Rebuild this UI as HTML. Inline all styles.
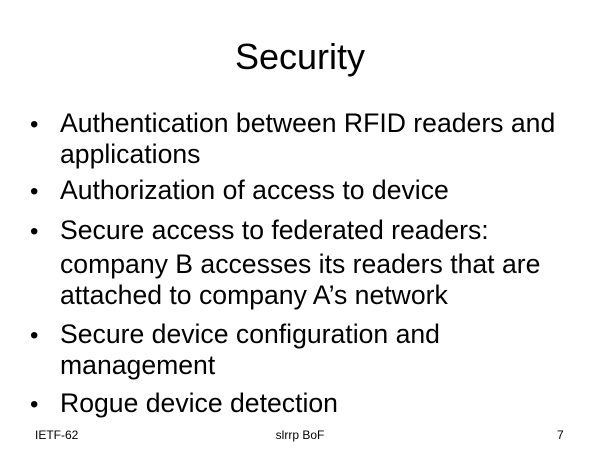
<!DOCTYPE html>
<html><head><meta charset="utf-8"><style>
body{margin:0;width:600px;height:450px;background:#fff;position:relative;overflow:hidden;font-family:"Liberation Sans",Arial,sans-serif;color:#000}
.t{position:absolute;left:0;width:600px;text-align:center;font-size:36px;top:36px;line-height:42px}
.l{position:absolute;left:60px;font-size:26.6px;line-height:28px;white-space:nowrap;margin-top:-2px}
.b{position:absolute;left:30px;font-size:24px;line-height:28px}
.f{position:absolute;font-size:12px;top:428px;line-height:14px}
</style></head><body>
<div class="t">Security</div>
<div class="b" style="top:111px">•</div>
<div class="l" style="top:111px">Authentication between RFID readers and</div>
<div class="l" style="top:142px">applications</div>
<div class="b" style="top:178px">•</div>
<div class="l" style="top:178px">Authorization of access to device</div>
<div class="b" style="top:218px">•</div>
<div class="l" style="top:218px">Secure access to federated readers:</div>
<div class="l" style="top:252px">company B accesses its readers that are</div>
<div class="l" style="top:283px">attached to company A’s network</div>
<div class="b" style="top:322px">•</div>
<div class="l" style="top:322px">Secure device configuration and</div>
<div class="l" style="top:353px">management</div>
<div class="b" style="top:391px">•</div>
<div class="l" style="top:391px">Rogue device detection</div>
<div class="f" style="left:35px">IETF-62</div>
<div class="f" style="left:0;width:600px;text-align:center">slrrp BoF</div>
<div class="f" style="left:557px">7</div>
</body></html>
